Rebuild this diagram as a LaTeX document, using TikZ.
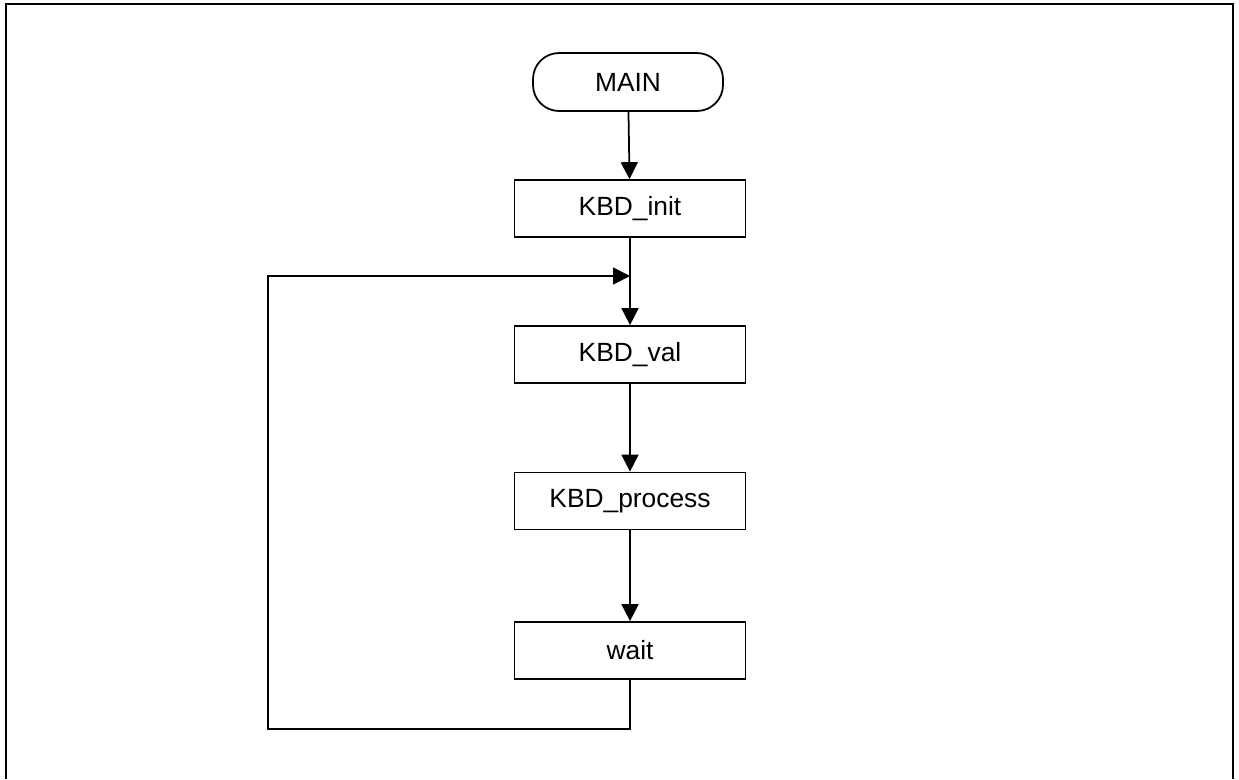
\documentclass[tikz,border=0pt]{standalone}
\usepackage{fontspec}
\setmainfont{Liberation Sans}
\usepackage{tikz}
\usetikzlibrary{arrows.meta}

\begin{document}
\begin{tikzpicture}[x=0.02cm,y=-0.02cm,line width=1pt,
  box/.style={draw,minimum width=4.62cm,minimum height=1.14cm,inner sep=0pt},
  term/.style={draw,rounded corners=0.52cm,minimum width=3.8cm,minimum height=1.16cm,inner sep=0pt},
  flow/.style={-{Triangle[width=0.34cm,length=0.34cm]}}]

\useasboundingbox (0,0) rectangle (1239,779);
\fontsize{15}{18}\selectfont

% Outer frame, open at the bottom.
\draw[line width=1.2pt] (6,779) -- (6,4) -- (1233,4) -- (1233,779);

% Flowchart steps.
\node[term] (main) at (628,82) {MAIN};
\node[box]  (init) at (630,208.5) {KBD\_init};
\node[box]  (val)  at (630,354.5) {KBD\_val};
\node[box]  (proc) at (630,501) {KBD\_process};
\node[box]  (wait) at (630,650.5) {wait};

% Define coordinates for the loop back.
\coordinate (loopbot) at (268,729);
\coordinate (looptop) at (268,276);
\coordinate (join)    at (init.south |- looptop);

% Draw connectors.
\draw[flow] (main) -- (init);
\draw[flow] (init) -- (val);
\draw[flow] (val) -- (proc);
\draw[flow] (proc) -- (wait);
\draw[flow] (wait.south) |- (loopbot) -- (looptop) -- (join);

\end{tikzpicture}
\end{document}
